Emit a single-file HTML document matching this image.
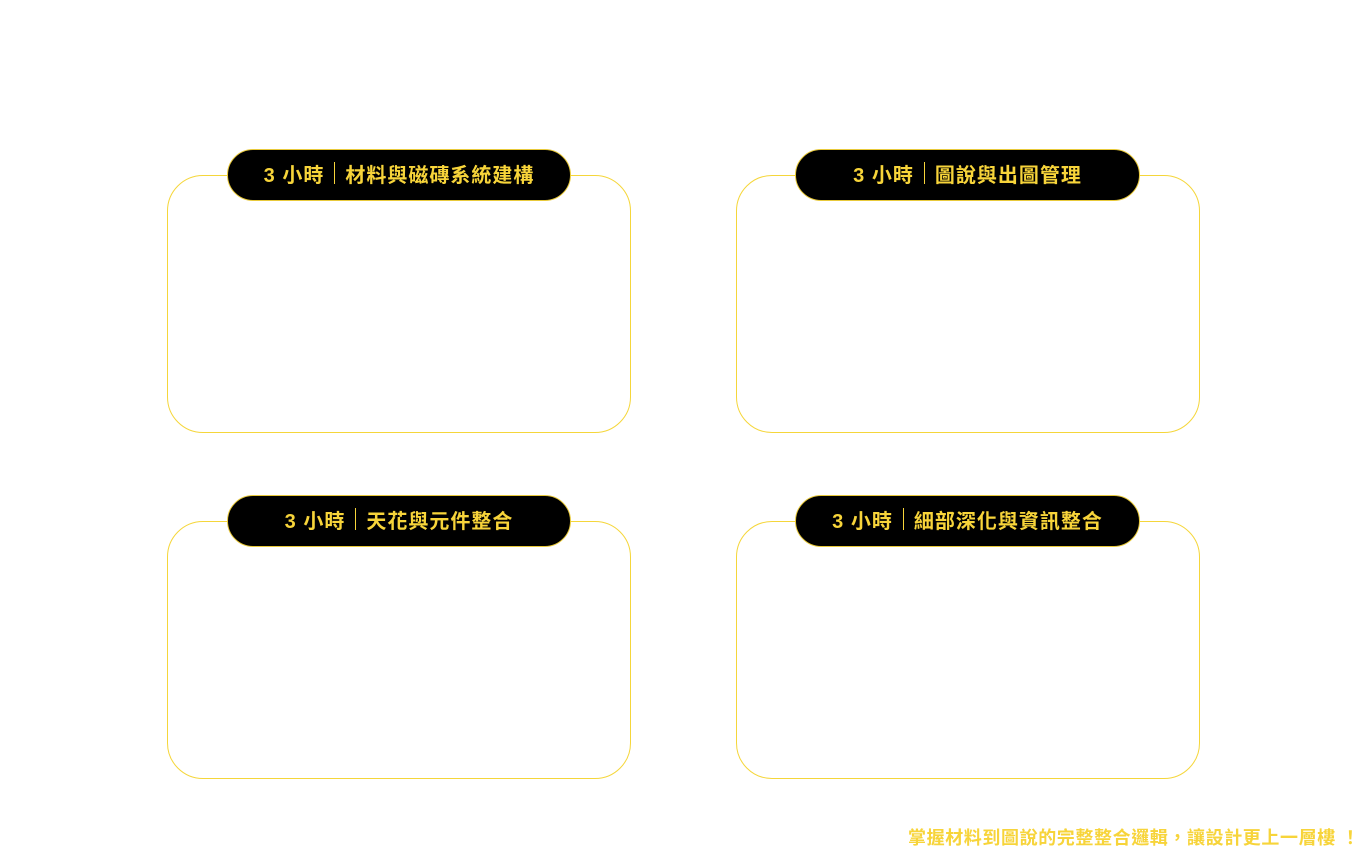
<!DOCTYPE html>
<html><head><meta charset="utf-8"><style>
body{margin:0;width:1366px;height:866px;background:#fff;position:relative;overflow:hidden;font-family:"Liberation Sans","Noto Sans CJK TC",sans-serif;}
.box{position:absolute;width:464px;height:258px;border:1px solid #f5d63a;border-radius:36px;box-sizing:border-box;}
.pill{position:absolute;height:52px;background:#000;border:1px solid #e8c93a;border-radius:26px;box-sizing:border-box;color:#f7d43a;font-weight:bold;font-size:20px;display:flex;align-items:center;justify-content:center;letter-spacing:1px;padding-bottom:4px;}
.sep{display:inline-block;width:1px;height:22px;background:#f7d43a;margin:0 10px;}
.foot{position:absolute;left:908px;top:824px;font-size:18px;font-weight:bold;color:#f7d43a;white-space:nowrap;letter-spacing:0.6px;}
</style></head><body>
<div class="box" style="left:167px;top:175px"></div>
<div class="box" style="left:736px;top:175px"></div>
<div class="box" style="left:167px;top:521px"></div>
<div class="box" style="left:736px;top:521px"></div>
<div class="pill" style="left:227px;top:149px;width:344px">3 小時<span class="sep"></span>材料與磁磚系統建構</div>
<div class="pill" style="left:795px;top:149px;width:345px">3 小時<span class="sep"></span>圖說與出圖管理</div>
<div class="pill" style="left:227px;top:495px;width:344px">3 小時<span class="sep"></span>天花與元件整合</div>
<div class="pill" style="left:795px;top:495px;width:345px">3 小時<span class="sep"></span>細部深化與資訊整合</div>
<div class="foot">掌握材料到圖說的完整整合邏輯，讓設計更上一層樓 ！</div>
</body></html>
